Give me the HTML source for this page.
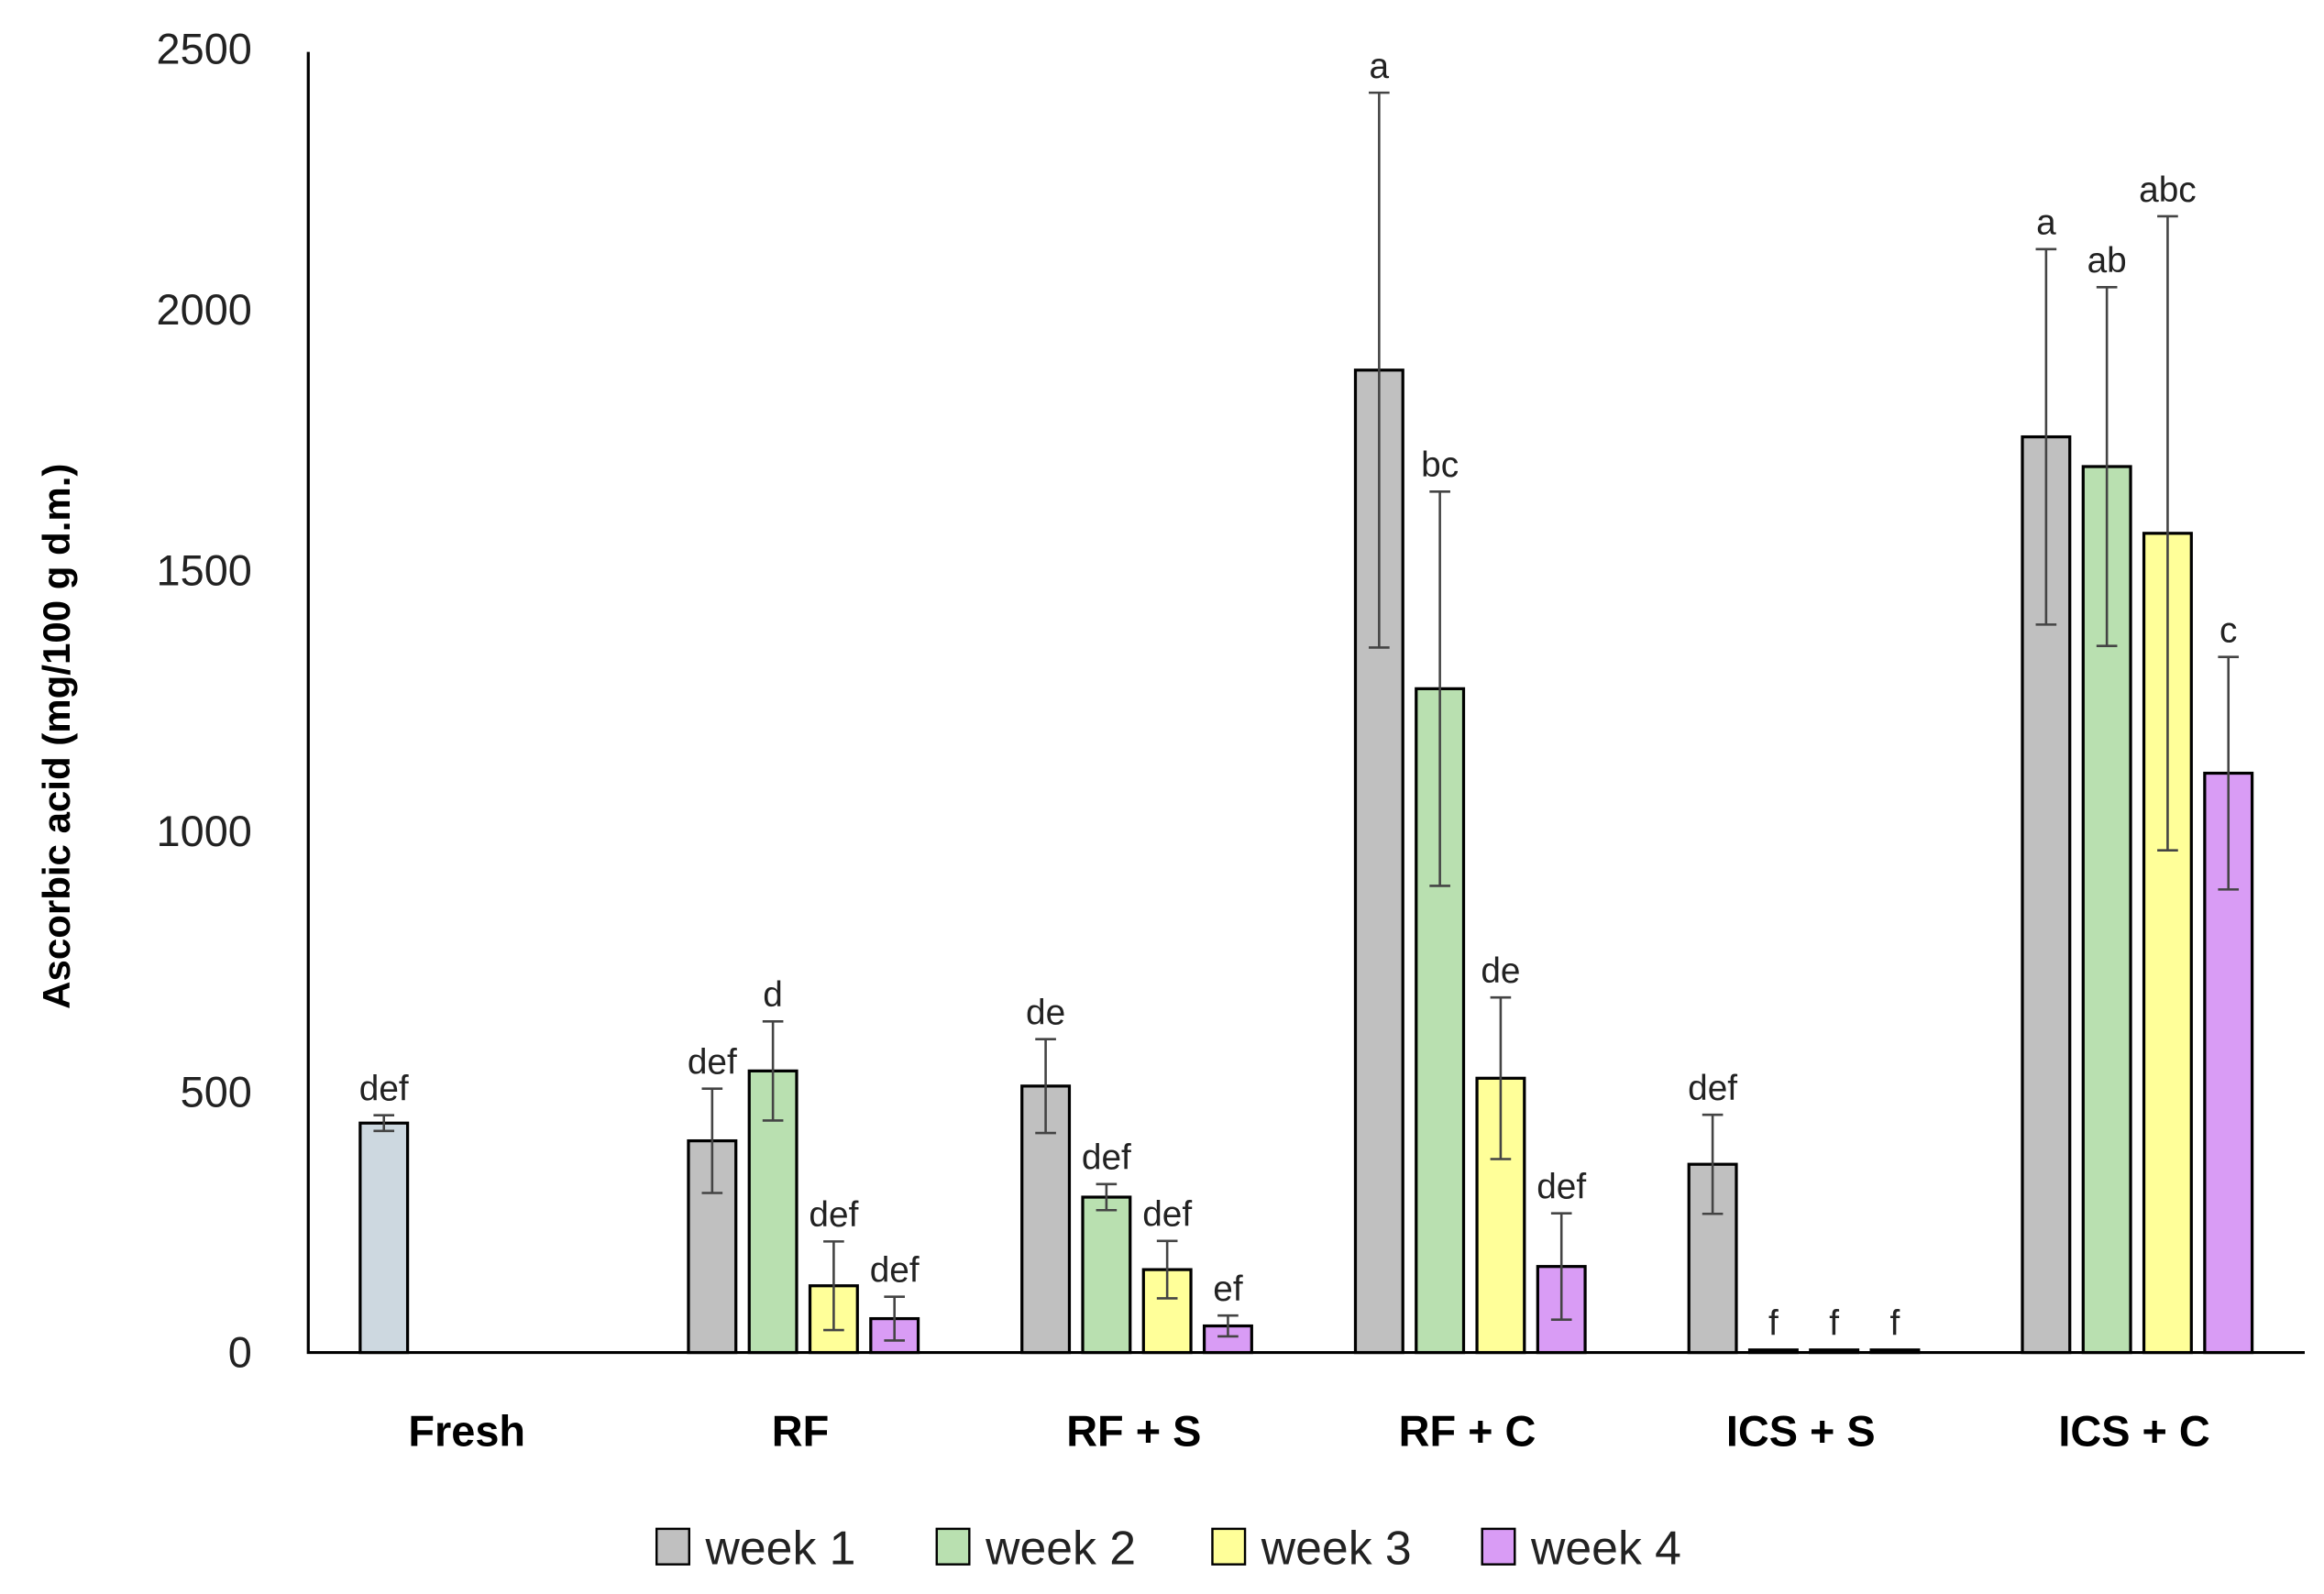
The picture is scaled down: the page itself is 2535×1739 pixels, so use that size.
<!DOCTYPE html>
<html><head><meta charset="utf-8"><style>
html,body{margin:0;padding:0;background:#fff;}
svg{display:block;}
text{font-family:"Liberation Sans","DejaVu Sans",sans-serif;}
</style></head><body>
<svg id="chart" width="2535" height="1739" viewBox="0 0 1568 1076" preserveAspectRatio="none" xmlns="http://www.w3.org/2000/svg">
<g id="g"></g>
</svg>
<script>
const categories = ["Fresh","RF","RF + S","RF + C","ICS + S","ICS + C"];
const seriesNames = ["week 1","week 2","week 3","week 4"];
const week1 = [440, 406, 511, 1884, 361, 1756];
const week2 = [null, 540, 298, 1273, 5, 1699];
const week3 = [null, 128, 159, 526, 5, 1571];
const week4 = [null, 65, 51, 165, 5, 1111];
const err1 = [15, 100, 90, 532, 95, 360];
const err2 = [null, 95, 25, 378, 0, 344];
const err3 = [null, 85, 55, 155, 0, 608];
const err4 = [null, 42, 20, 102, 0, 223];
const lab1 = ["def","def","de","a","def","a"];
const lab2 = ["","d","def","bc","f","ab"];
const lab3 = ["","def","def","de","f","abc"];
const lab4 = ["","def","ef","def","f","c"];
const yTicks = [0,500,1000,1500,2000,2500];

const NS="http://www.w3.org/2000/svg";
const g=document.getElementById('g');
const y0=913, yTop=33, yMax=2500;
const y=v=>y0-(v/yMax)*(y0-yTop);
const catX=i=>317+225*i;
const bw=32, pitch=41;
const colors=["#c0c0c0","#b9e0b0","#ffff99","#d99cf5"];
function mk(tag,attrs,txt){const e=document.createElementNS(NS,tag);for(const k in attrs)e.setAttribute(k,attrs[k]);if(txt!==undefined)e.textContent=txt;g.appendChild(e);return e;}

yTicks.forEach(t=>{
  const e=mk('text',{x:170,y:y(t)+10,'text-anchor':'end','font-size':29,fill:'#222'},String(t));
  
  
});
const yt=mk('text',{x:0,y:0,transform:'translate(47,497) rotate(-90)','text-anchor':'middle','font-size':26,'font-weight':'bold',fill:'#000'},'Ascorbic acid (mg/100 g d.m.)');



const vals=[week1,week2,week3,week4], errs=[err1,err2,err3,err4], labs=[lab1,lab2,lab3,lab4];
categories.forEach((c,i)=>{
  const cl=mk('text',{x:catX(i)-2,y:976,'text-anchor':'middle','font-size':29,'font-weight':'bold',fill:'#000'},c);
  
  
  for(let j=0;j<4;j++){
    const v=vals[j][i]; if(v===null) continue;
    let cx=catX(i)+(j-1.5)*pitch;
    if(i===0) cx=259;
    const col=(i===0)?"#cdd8e0":colors[j];
    const r=mk('rect',{x:cx-bw/2,y:y(v),width:bw,height:y0-y(v),fill:col,stroke:'#000','stroke-width':2});
    
    
    const e=errs[j][i];
    if(e>0){
      const eb=mk('path',{d:`M${cx},${y(v+e)}V${y(v-e)}M${cx-7},${y(v+e)}H${cx+7}M${cx-7},${y(v-e)}H${cx+7}`,stroke:'#444','stroke-width':1.6,fill:'none'});
      
      
    }
    const l=labs[j][i];
    if(l){
      const lt=mk('text',{x:cx,y:y(v+e)-10,'text-anchor':'middle','font-size':24,fill:'#222'},l);
      
      
    }
  }
});
const ax=mk('path',{d:`M208,35V${y0}H1555`,stroke:'#000','stroke-width':2,fill:'none'});



const legX=[443,632,818,1000];
seriesNames.forEach((s,j)=>{
  const b=mk('rect',{x:legX[j],y:1032,width:22,height:24,fill:colors[j],stroke:'#000','stroke-width':1.5});
  
  
  const t=mk('text',{x:legX[j]+33,y:1056,'font-size':32,fill:'#222'},s);
  
  
});
</script>
</body></html>
